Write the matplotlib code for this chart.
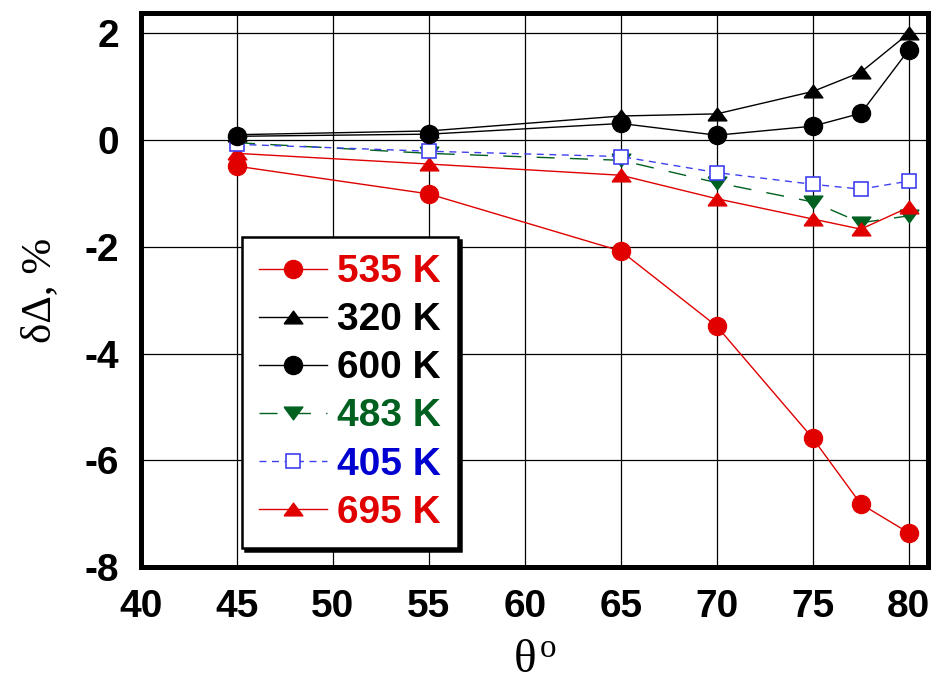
import numpy as np
import matplotlib
matplotlib.use("Agg")
import matplotlib.pyplot as plt

plt.rcParams['font.family'] = ['Liberation Sans', 'DejaVu Sans']
plt.rcParams['axes.unicode_minus'] = False
plt.rcParams['mathtext.fontset'] = 'custom'
plt.rcParams['mathtext.rm'] = 'Liberation Serif'
plt.rcParams['mathtext.it'] = 'Liberation Serif'

# incidence angles, degrees
theta = [45, 55, 65, 70, 75, 77.5, 80]

# relative change of Delta, % for each temperature
d_535 = [-0.49, -1.01, -2.08, -3.49, -5.59, -6.82, -7.36]
d_320 = [0.10, 0.17, 0.45, 0.49, 0.91, 1.27, 2.00]
d_600 = [0.07, 0.11, 0.31, 0.09, 0.26, 0.50, 1.69]
d_483 = [-0.05, -0.25, -0.38, -0.80, -1.16, -1.55, -1.42]
d_405 = [-0.08, -0.21, -0.31, -0.61, -0.83, -0.92, -0.77]
d_695 = [-0.25, -0.45, -0.66, -1.10, -1.48, -1.67, -1.26]

labels = ['535 K', '320 K', '600 K', '483 K', '405 K', '695 K']

xticks = [40, 45, 50, 55, 60, 65, 70, 75, 80]
yticks = [-8, -6, -4, -2, 0, 2]

RED = '#e00000'
GREEN = '#006020'
BLUE = '#0000d0'

# flattened triangles (wider than tall)
tri_up = [(-1, -0.68), (1, -0.68), (0, 0.68), (-1, -0.68)]
tri_down = [(-1, 0.68), (1, 0.68), (0, -0.68), (-1, 0.68)]

fig = plt.figure(figsize=(9.41, 6.83), dpi=100)
ax = fig.add_axes([141 / 941, 1 - 567 / 683, 787 / 941, 554 / 683])

ax.grid(True, color='black', linewidth=0.9)
ax.set_axisbelow(True)

ax.plot(theta, d_535, color=RED, lw=1.0, marker='o', ms=13, mec=RED, mfc=RED,
        label=labels[0], zorder=3)
ax.plot(theta, d_320, color='black', lw=1.0, marker=tri_up, ms=13.5, mec='black', mfc='black',
        label=labels[1], zorder=4)
ax.plot(theta, d_600, color='black', lw=1.0, marker='o', ms=13, mec='black', mfc='black',
        label=labels[2], zorder=5)
ax.plot(theta, d_483, color=GREEN, lw=1.0, ls=(0, (13, 11)), marker=tri_down, ms=13.5,
        mec=GREEN, mfc=GREEN, label=labels[3], zorder=3)
ax.plot(theta, d_405, color='#4040f0', lw=1.0, ls=(0, (5, 4)), marker='s', ms=10,
        mec='#4040f0', mfc='white', mew=1.2, label=labels[4], zorder=4)
ax.plot(theta, d_695, color=RED, lw=1.0, marker=tri_up, ms=13.5, mec=RED, mfc=RED,
        label=labels[5], zorder=3)

ax.set_xlim(40, 81)
ax.set_ylim(-8, 2.38)
ax.set_xticks(xticks)
ax.set_yticks(yticks)
ax.tick_params(length=0, pad=16, labelsize=28)
for lab in ax.get_xticklabels() + ax.get_yticklabels():
    lab.set_fontweight('bold')

for sp in ax.spines.values():
    sp.set_linewidth(3.6)

ax.set_xlabel(r'$\theta^{\mathrm{o}}$', fontsize=34, labelpad=9)
ax.set_ylabel('δΔ, %', fontsize=31, family=['Liberation Serif', 'DejaVu Serif'], labelpad=18)

leg = ax.legend(loc='upper left', bbox_to_anchor=(0.128, 0.596),
                prop={'weight': 'bold', 'size': 28}, frameon=True, fancybox=False,
                shadow={'color': 'black', 'alpha': 1.0}, borderpad=0.45,
                labelspacing=0.31, handlelength=1.75, handletextpad=0.25,
                borderaxespad=0)
leg.get_frame().set_edgecolor('black')
leg.get_frame().set_linewidth(1.8)
for txt, col in zip(leg.get_texts(), [RED, 'black', 'black', GREEN, BLUE, RED]):
    txt.set_color(col)

fig.savefig('out.png', dpi=100)
